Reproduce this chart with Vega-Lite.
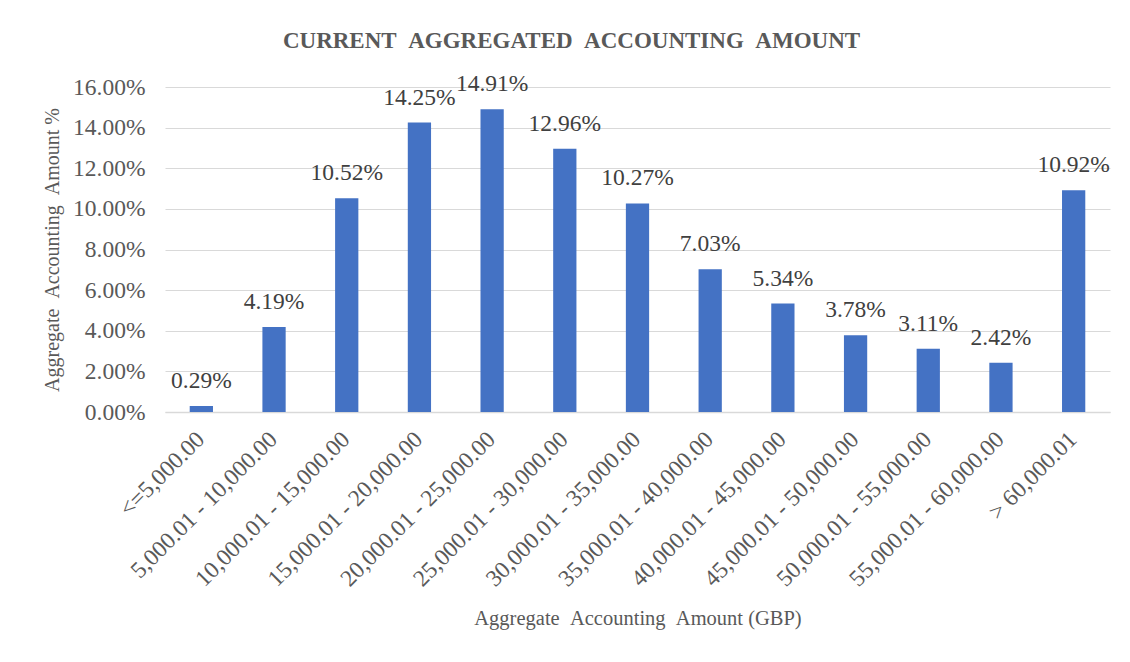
{
  "$schema": "https://vega.github.io/schema/vega-lite/v6.json",
  "autosize": {"type": "none"},
  "width": 945,
  "height": 325,
  "padding": {"left": 165, "top": 87, "right": 20, "bottom": 250},
  "background": "white",
  "config": {
    "font": "Liberation Serif",
    "view": {"stroke": null}
  },
  "title": {
    "text": "CURRENT\u00a0\u00a0AGGREGATED\u00a0\u00a0ACCOUNTING\u00a0\u00a0AMOUNT",
    "font": "Liberation Serif",
    "fontSize": 23,
    "fontWeight": "bold",
    "color": "#595959",
    "anchor": "middle",
    "dx": -66,
    "offset": 19
  },
  "data": {
    "values": [
      {"range": "<=5,000.00", "pct": 0.0029},
      {"range": "5,000.01 - 10,000.00", "pct": 0.0419},
      {"range": "10,000.01 - 15,000.00", "pct": 0.1052},
      {"range": "15,000.01 - 20,000.00", "pct": 0.1425},
      {"range": "20,000.01 - 25,000.00", "pct": 0.1491},
      {"range": "25,000.01 - 30,000.00", "pct": 0.1296},
      {"range": "30,000.01 - 35,000.00", "pct": 0.1027},
      {"range": "35,000.01 - 40,000.00", "pct": 0.0703},
      {"range": "40,000.01 - 45,000.00", "pct": 0.0534},
      {"range": "45,000.01 - 50,000.00", "pct": 0.0378},
      {"range": "50,000.01 - 55,000.00", "pct": 0.0311},
      {"range": "55,000.01 - 60,000.00", "pct": 0.0242},
      {"range": "> 60,000.01", "pct": 0.1092}
    ]
  },
  "encoding": {
    "x": {
      "field": "range",
      "type": "nominal",
      "sort": null,
      "scale": {"paddingInner": 0.68, "paddingOuter": 0.34},
      "axis": {
        "title": "Aggregate\u00a0\u00a0Accounting\u00a0\u00a0Amount (GBP)",
        "titleFont": "Liberation Serif",
        "titleFontSize": 20.5,
        "titleFontWeight": "normal",
        "titleColor": "#595959",
        "titlePadding": 18,
        "labelAngle": -45,
        "labelAlign": "right",
        "labelBaseline": "top",
        "labelFont": "Liberation Serif",
        "labelFontSize": 23.5,
        "labelColor": "#595959",
        "labelPadding": 15,
        "labelOffset": -9,
        "labelLimit": 300,
        "ticks": false,
        "domain": true,
        "domainColor": "#d9d9d9",
        "domainWidth": 1.5,
        "grid": false
      }
    },
    "y": {
      "field": "pct",
      "type": "quantitative",
      "scale": {"domain": [0, 0.16], "nice": false},
      "axis": {
        "title": "Aggregate\u00a0\u00a0Accounting\u00a0\u00a0Amount %",
        "titleFont": "Liberation Serif",
        "titleFontSize": 20,
        "titleFontWeight": "normal",
        "titleColor": "#595959",
        "titlePadding": 10,
        "format": ".2%",
        "values": [0, 0.02, 0.04, 0.06, 0.08, 0.1, 0.12, 0.14, 0.16],
        "labelFont": "Liberation Serif",
        "labelFontSize": 23.5,
        "labelColor": "#595959",
        "labelPadding": 20,
        "ticks": false,
        "domain": false,
        "grid": true,
        "gridColor": "#d9d9d9",
        "gridWidth": 1
      }
    }
  },
  "layer": [
    {"mark": {"type": "bar", "color": "#4472C4"}},
    {
      "mark": {
        "type": "text",
        "baseline": "alphabetic",
        "dy": -18,
        "font": "Liberation Serif",
        "fontSize": 23.5,
        "color": "#404040"
      },
      "encoding": {
        "text": {"field": "pct", "type": "quantitative", "format": ".2%"}
      }
    }
  ]
}
